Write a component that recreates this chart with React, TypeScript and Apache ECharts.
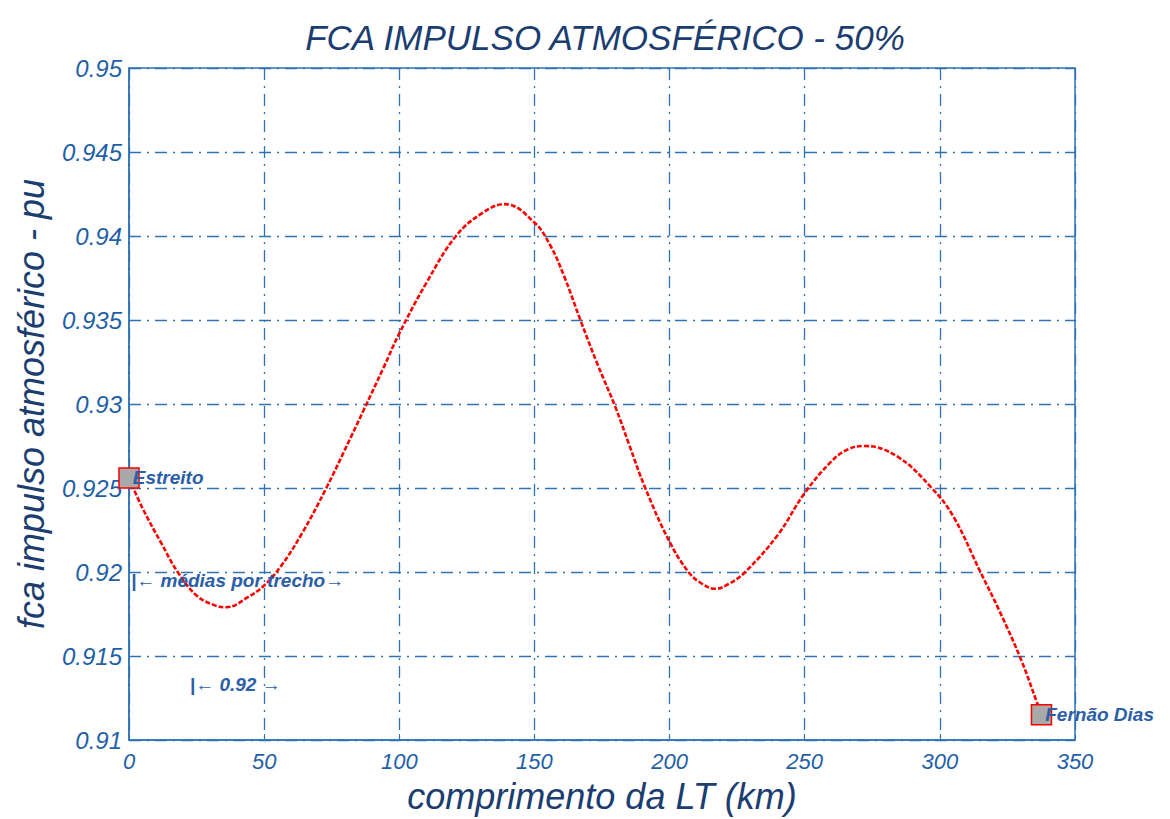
import React, { useEffect, useRef } from "react";
import * as echarts from "echarts";

const kmValues: number[] = [0, 5, 12, 18, 25, 32, 36, 44, 50, 56, 64, 73, 82, 87, 94, 100, 110, 121, 131, 139, 150, 156, 161, 167, 173, 180, 185, 191, 200, 207, 212, 217, 222, 228, 240, 250, 260, 266, 272, 284, 297, 305, 315, 322, 330, 336, 337.6];
const fcaValues: number[] = [0.9256, 0.9238, 0.9217, 0.92, 0.9186, 0.918, 0.9179, 0.9185, 0.9192, 0.9203, 0.9223, 0.925, 0.928, 0.9297, 0.9321, 0.9342, 0.9372, 0.94, 0.9414, 0.9419, 0.9408, 0.9394, 0.9376, 0.935, 0.9325, 0.9298, 0.9276, 0.925, 0.9218, 0.92, 0.9193, 0.919, 0.9193, 0.92, 0.9222, 0.9247, 0.9266, 0.9273, 0.9275, 0.9269, 0.925, 0.9233, 0.92, 0.9177, 0.9148, 0.9122, 0.9115];

const endpointNames: string[] = ["Estreito", "Fernão Dias"];
const endpointKm: number[] = [0, 337.6];
const endpointFca: number[] = [0.9256, 0.9115];

const noteTexts: string[] = ["|← médias por trecho→", "|← 0.92 →"];
const noteKm: number[] = [0.7, 22.5];
const noteFca: number[] = [0.9195, 0.9133];

const BLUE = "#1f5fa6";
const GRID = "#2f73b3";
const NAVY = "#1b3d70";
const NOTE = "#2b5ea6";

export default function App() {
  const ref = useRef<HTMLDivElement>(null);
  useEffect(() => {
    if (!ref.current) return;
    const chart = echarts.init(ref.current, undefined, { renderer: "svg" });
    const font = "'Liberation Sans', Arial, sans-serif";
    const gridLine = { show: true, lineStyle: { color: GRID, width: 1.3, type: [12, 6, 2, 6] as any } };
    const noteLabel = {
      show: true,
      fontFamily: font,
      fontStyle: "italic",
      fontWeight: "bold",
      fontSize: 19,
      color: NOTE,
      opacity: 1,
      formatter: (p: any) => p.name,
    };
    chart.setOption({
      animation: false,
      backgroundColor: "#ffffff",
      textStyle: { fontFamily: font },
      title: {
        text: "FCA IMPULSO ATMOSFÉRICO - 50%",
        left: 600,
        textAlign: "center",
        top: 15,
        textStyle: { fontFamily: font, fontStyle: "italic", fontWeight: "normal", fontSize: 35, color: NAVY },
      },
      grid: { left: 129, right: 95, top: 68, bottom: 76, show: true, borderColor: GRID, borderWidth: 1.5, backgroundColor: "transparent" },
      xAxis: {
        type: "value",
        min: 0,
        max: 350,
        interval: 50,
        name: "comprimento da LT (km)",
        nameLocation: "middle",
        nameGap: 38,
        nameTextStyle: { fontFamily: font, fontStyle: "italic", fontSize: 36, color: NAVY },
        axisLine: { show: true, lineStyle: { color: GRID, width: 1.5 } },
        axisTick: { show: true, inside: true, length: 6, lineStyle: { color: GRID } },
        axisLabel: { fontFamily: font, fontStyle: "italic", fontSize: 22, color: BLUE, margin: 10 },
        splitLine: gridLine,
      },
      yAxis: {
        type: "value",
        min: 0.91,
        max: 0.95,
        interval: 0.005,
        name: "fca impulso atmosférico - pu",
        nameLocation: "middle",
        nameGap: 80,
        nameTextStyle: { fontFamily: font, fontStyle: "italic", fontSize: 36, color: NAVY },
        axisLine: { show: true, lineStyle: { color: GRID, width: 1.5 } },
        axisTick: { show: true, inside: true, length: 6, lineStyle: { color: GRID } },
        axisLabel: {
          fontFamily: font,
          fontStyle: "italic",
          fontSize: 24,
          color: BLUE,
          margin: 7,
          formatter: (v: number) => parseFloat(v.toFixed(3)).toString(),
        },
        splitLine: gridLine,
      },
      series: [
        {
          type: "line",
          data: kmValues.map((k, i) => [k, fcaValues[i]]),
          smooth: 0.4,
          showSymbol: false,
          lineStyle: { color: "#ff0000", width: 2.6, type: [5, 2] as any },
          z: 3,
        },
        {
          type: "scatter",
          data: endpointNames.map((n, i) => ({ name: n, value: [endpointKm[i], endpointFca[i]] })),
          symbol: "rect",
          symbolSize: 20,
          itemStyle: { color: "#a9a9a9", borderColor: "#ff0000", borderWidth: 1.5, opacity: 1 },
          label: { ...noteLabel, position: "right", offset: [-12, 0] },
          z: 4,
        },
        {
          type: "scatter",
          data: noteTexts.map((t, i) => ({ name: t, value: [noteKm[i], noteFca[i]] })),
          symbolSize: 0,
          silent: true,
          itemStyle: { opacity: 1 },
          label: { ...noteLabel, position: "right", distance: 0 },
          z: 4,
        },
      ],
    });
    return () => chart.dispose();
  }, []);
  return <div ref={ref} style={{ position: "absolute", left: 0, top: 0, width: 1170, height: 819 }} />;
}
